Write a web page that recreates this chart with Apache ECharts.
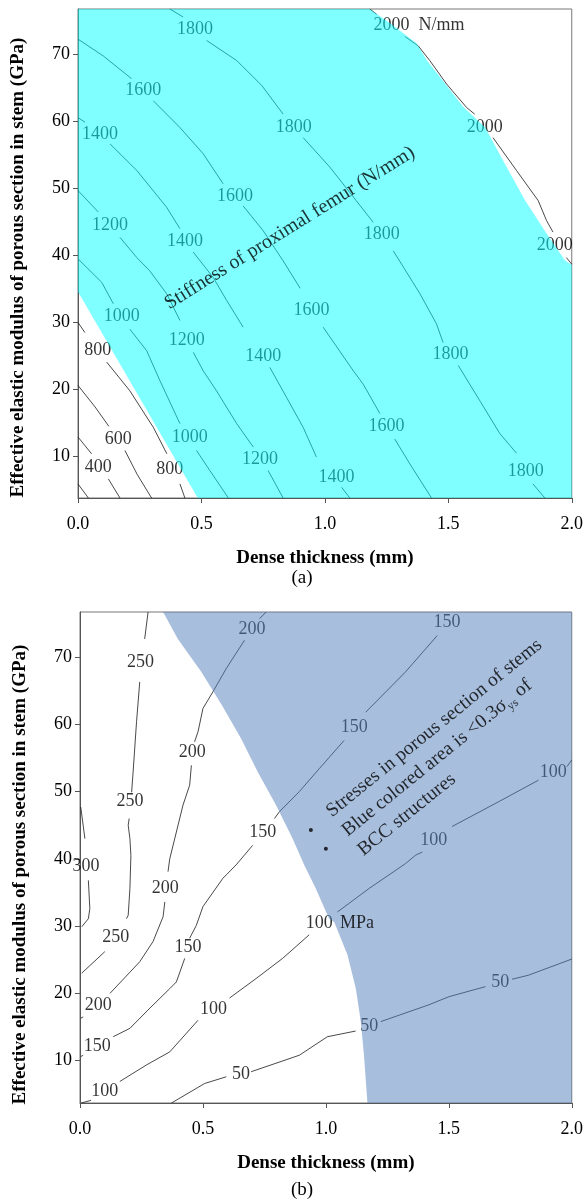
<!DOCTYPE html>
<html><head><meta charset="utf-8">
<script src="https://cdn.jsdelivr.net/npm/echarts@6/dist/echarts.min.js"></script>
<style>html,body{margin:0;padding:0;background:#fff}#c{width:586px;height:1200px}</style>
</head><body><div id="c"></div>
<script>
// ---------- shared axis values ----------
const yTicks = [10, 20, 30, 40, 50, 60, 70];
const xTitle = 'Dense thickness (mm)';
const yTitle = 'Effective elastic modulus of porous section in stem (GPa)';

// ---------- panel (a): stiffness contours (N/mm), null = gap for label ----------
const regionA = [[0,76.7],[1.182,76.7],[1.274,74.3],[1.371,71.6],[1.412,69.1],[1.486,65.6],[1.56,62.1],[1.648,59.1],[1.735,53.2],[1.81,48.2],[1.898,43.2],[1.972,39.2],[2.0,38.5],[2.0,3.7],[0.485,3.7],[0,34.5]];
const a200 = [[0,5.8],[0.042,3.7]];
const a400 = [[0,12.8],[0.055,10.3],null,[0.123,6.55],[0.17,3.7]];
const a600 = [[0,20.5],[0.069,17.3],[0.125,14.4],null,[0.19,10.8],[0.24,7.2],[0.298,3.7]];
const a800 = [[0,29.9],[0.028,28.4],null,[0.116,24.0],[0.21,19.7],[0.305,14.25],[0.36,10.3],null,[0.413,5.8],[0.433,3.7]];
const a1000 = [[0,39.4],[0.096,35.9],[0.143,32.7],null,[0.21,28.9],[0.278,25.7],[0.332,21.2],[0.413,14.8],null,[0.48,10.8],[0.534,7.8],[0.609,3.7]];
const a1200 = [[0,49.6],[0.082,46.4],null,[0.17,42.6],[0.238,39.6],[0.291,37.6],[0.359,34.2],[0.413,30.2],null,[0.467,25.45],[0.507,22.7],[0.561,19.7],[0.643,14.8],[0.71,11.3],null,[0.77,7.8],[0.831,3.7]];
const a1400 = [[0,60.5],[0.028,59.8],null,[0.13,56.55],[0.238,52.6],[0.359,47.1],[0.413,43.9],null,[0.467,40.4],[0.548,36.6],[0.602,33.2],[0.669,29.2],null,[0.777,23.2],[0.845,18.7],[0.912,14.25],[0.966,9.8],null,[1.068,5.3],[1.101,3.7]];
const a1600 = [[0,72.2],[0.102,69.7],[0.217,66.3],null,[0.305,63.0],[0.413,59.0],[0.507,55.1],[0.588,50.6],null,[0.669,47.3],[0.75,43.6],[0.831,39.1],[0.9,35.0],null,[0.993,29.2],[1.115,22.7],[1.155,20.7],[1.223,16.3],null,[1.283,12.5],[1.344,8.8],[1.432,3.7]];
const a1800 = [[0.372,76.7],[0.426,75.5],null,[0.521,72.0],[0.643,69.0],[0.744,65.3],[0.831,61.0],null,[0.912,57.5],[1.02,53.1],[1.196,44.85],null,[1.277,40.6],[1.385,34.2],[1.452,29.7],[1.479,26.9],null,[1.54,23.5],[1.628,18.2],[1.709,13.3],[1.776,10.4],null,[1.843,5.8],[1.891,3.7]];
const a2000 = [[1.182,76.7],[1.21,75.9],null,[1.324,72.6],[1.378,71.2],[1.425,69.0],[1.493,65.5],[1.574,62.0],[1.607,61.0],null,[1.681,57.5],[1.776,52.6],[1.864,48.1],[1.898,45.1],[1.924,43.4],null,[1.978,39.6],[2.0,38.6]];
const labelsA = [
  [0.082,8.3,'400'],[0.163,12.5,'600'],[0.08,25.7,'800'],[0.372,8.05,'800'],
  [0.177,30.8,'1000'],[0.453,12.8,'1000'],
  [0.13,44.4,'1200'],[0.44,27.2,'1200'],[0.737,9.55,'1200'],
  [0.089,58.05,'1400'],[0.433,42.1,'1400'],[0.75,24.8,'1400'],[1.047,6.8,'1400'],
  [0.264,64.6,'1600'],[0.636,48.8,'1600'],[0.946,31.8,'1600'],[1.25,14.4,'1600'],
  [0.474,73.7,'1800'],[0.874,59.1,'1800'],[1.23,43.1,'1800'],[1.509,25.1,'1800'],[1.814,7.7,'1800'],
  [1.27,74.2,'2000'],[1.648,59.0,'2000'],[1.931,41.4,'2000']
];
const unitA = [[1.472,74.2,'N/mm']];
const noteA = [[0.858,44.0,'Stiffness of proximal femur (N/mm)']];

// ---------- panel (b): stress contours (MPa) ----------
const regionB = [[0.338,76.7],[2.0,76.7],[2.0,3.7],[1.169,3.7],[1.155,10.8],[1.142,15.8],[1.122,20.7],[1.088,25.7],[1.034,30.6],[1.013,31.1],[0.959,35.6],[0.912,39.1],[0.865,43.0],[0.797,48.0],[0.723,52.9],[0.655,57.9],[0.578,62.8],[0.493,67.8],[0.398,72.7]];
const b300 = [[0.003,47.7],[0.02,43.0],null,[0.034,36.8],[0.04,32.6],[0.034,31.1],[0.007,29.9]];
const b250 = [[0.277,76.7],[0.263,72.7],null,[0.243,66.3],[0.23,60.4],[0.216,52.9],[0.21,49.9],null,[0.2,46.0],[0.196,45.0],[0.203,43.0],[0.207,40.5],[0.203,35.6],[0.196,31.6],[0.189,31.1],null,[0.101,26.2],[0.007,23.0]];
const b200 = [[0.757,76.7],[0.73,75.7],null,[0.669,72.5],[0.595,68.3],[0.54,64.8],[0.5,62.35],[0.48,58.9],[0.466,57.4],null,[0.453,53.9],[0.446,50.95],[0.419,48.0],[0.365,40.0],[0.358,38.1],null,[0.345,33.6],[0.338,31.4],[0.297,27.7],[0.243,24.7],[0.122,20.0],null,[0.013,16.5],[0.003,16.3]];
const b150 = [[1.453,73.2],[1.324,67.8],[1.162,61.8],null,[1.074,57.6],[0.973,53.4],[0.892,50.0],[0.811,47.0],[0.791,46.0],null,[0.702,42.0],[0.635,39.1],[0.581,37.1],[0.5,32.9],[0.473,30.1],[0.446,28.2],null,[0.426,25.2],[0.392,21.7],[0.365,20.7],[0.284,17.8],[0.203,14.8],[0.135,13.55],null,[0.013,10.8],[0.003,10.6]];
const b100 = [[2.0,54.7],[1.98,53.7],null,[1.865,51.7],[1.703,48.5],[1.513,44.8],null,[1.392,41.0],[1.365,40.55],[1.324,39.3],[1.176,35.6],[1.047,32.1],null,[0.932,28.7],[0.824,25.2],[0.716,22.2],[0.608,19.3],null,[0.48,16.0],[0.365,11.3],[0.27,9.35],[0.162,6.9],null,[0.045,4.1],[0.005,3.7]];
const b50 = [[0.372,3.7],[0.507,6.6],[0.595,7.6],null,[0.696,8.35],[0.892,10.8],[1.006,13.55],[1.121,14.4],null,[1.223,15.8],[1.419,18.3],[1.5,19.5],[1.649,21.0],null,[1.757,22.1],[1.824,22.7],[2.0,25.1]];
const labelsB = [
  [0.024,38.9,'300'],
  [0.246,69.2,'250'],[0.203,48.6,'250'],[0.145,28.4,'250'],
  [0.7,74.1,'200'],[0.457,55.9,'200'],[0.347,35.6,'200'],[0.074,18.3,'200'],
  [1.493,75.2,'150'],[1.115,59.6,'150'],[0.743,44.0,'150'],[0.439,26.8,'150'],[0.07,12.1,'150'],
  [1.925,52.9,'100'],[1.439,42.8,'100'],[0.973,30.4,'100'],[0.543,17.7,'100'],[0.101,5.4,'100'],
  [0.655,7.9,'50'],[1.176,15.05,'50'],[1.709,21.7,'50']
];
const unitB = [[1.127,30.4,'MPa']];
const bulletsB = [[0.939,44.3],[1.0,41.5]];
const noteBPos = [0.98,48.2];

// ---------- builders ----------
const FONT = '"Liberation Serif", "Times New Roman", serif';
function segs(pts){ const out=[]; let cur=[]; pts.forEach(p=>{ if(p===null){ if(cur.length) out.push(cur); cur=[]; } else cur.push(p); }); if(cur.length) out.push(cur); return out; }
function contourSeries(list, gi){
  const s=[];
  list.forEach(pts=>segs(pts).forEach(seg=>s.push({type:'line', xAxisIndex:gi, yAxisIndex:gi, data:seg, symbol:'none', lineStyle:{color:'#1a1a1a', width:0.8}, z:2, silent:true})));
  return s;
}
function labelSeries(list, gi, z, extraLabel){
  return {type:'scatter', xAxisIndex:gi, yAxisIndex:gi, z:z, silent:true, symbolSize:0,
    itemStyle:{color:'rgba(0,0,0,0)'},
    data:list.map(l=>({value:[l[0],l[1]], name:l[2]})),
    label:Object.assign({show:true, position:'inside', formatter:'{b}', fontFamily:FONT, fontSize:18, color:'#000'}, extraLabel||{})};
}
function regionSeries(poly, gi, fill){
  return {type:'custom', xAxisIndex:gi, yAxisIndex:gi, z:4, silent:true, data:poly,
    renderItem:(params, api)=> params.dataIndex===0 ? {type:'polygon', shape:{points:poly.map(p=>api.coord(p))}, style:{fill:fill}} : null};
}
function xAx(gi){
  return {type:'value', gridIndex:gi, min:0, max:2, interval:0.5,
    axisLine:{show:true, onZero:false, lineStyle:{color:'#555'}},
    axisTick:{show:true, length:5, lineStyle:{color:'#555'}},
    axisLabel:{formatter:v=>v.toFixed(1), fontFamily:FONT, fontSize:18, color:'#000', margin:17},
    splitLine:{show:false},
    name:xTitle, nameLocation:'middle', nameGap:51,
    nameTextStyle:{fontFamily:FONT, fontWeight:'bold', fontSize:19, color:'#000'}};
}
function yAx(gi, shiftPad){
  return {type:'value', gridIndex:gi, min:3.7, max:76.7,
    axisLine:{show:true, onZero:false, lineStyle:{color:'#555'}},
    axisTick:{show:true, length:5, customValues:yTicks, lineStyle:{color:'#555'}},
    axisLabel:{customValues:yTicks, fontFamily:FONT, fontSize:18, color:'#000', margin:8},
    splitLine:{show:false},
    name:yTitle, nameLocation:'middle', nameGap:50, nameRotate:90,
    nameTextStyle:{fontFamily:FONT, fontWeight:'bold', fontSize:19, color:'#000', padding:[0, shiftPad, 0, 0]}};
}

const series = [].concat(
  contourSeries([a200,a400,a600,a800,a1000,a1200,a1400,a1600,a1800,a2000], 0),
  [labelSeries(labelsA, 0, 3)],
  [regionSeries(regionA, 0, 'rgba(0,255,255,0.5)')],
  [labelSeries(unitA, 0, 6)],
  [labelSeries(noteA, 0, 6, {fontSize:20, rotate:32})],
  contourSeries([b300,b250,b200,b150,b100,b50], 1),
  [labelSeries(labelsB, 1, 3)],
  [regionSeries(regionB, 1, 'rgba(82,126,188,0.5)')],
  [labelSeries(unitB, 1, 6)],
  [{type:'scatter', xAxisIndex:1, yAxisIndex:1, z:6, silent:true, symbolSize:4, itemStyle:{color:'#000'}, data:bulletsB}],
  [{type:'scatter', xAxisIndex:1, yAxisIndex:1, z:6, silent:true, symbolSize:0, itemStyle:{color:'rgba(0,0,0,0)'},
    data:[{value:noteBPos, name:'note'}],
    label:{show:true, position:[0,0], align:'left', verticalAlign:'top', rotate:39,
      formatter:'{a|Stresses in porous section of stems}\n{a|Blue colored area is <0.3σ}{s|ys}{a| of}\n{a|BCC structures}',
      rich:{a:{fontFamily:FONT, fontSize:19.5, color:'#000', lineHeight:25},
            s:{fontFamily:FONT, fontSize:12, color:'#000', lineHeight:25, verticalAlign:'bottom'}}}}]
);

const chart = echarts.init(document.getElementById('c'), null, {renderer:'canvas'});
chart.setOption({
  animation:false,
  backgroundColor:'#fff',
  grid:[
    {left:78, right:14, top:9, height:489, show:true, borderColor:'#777', borderWidth:1, backgroundColor:'transparent'},
    {left:80, right:13, top:612, height:491, show:true, borderColor:'#777', borderWidth:1, backgroundColor:'transparent'}
  ],
  xAxis:[xAx(0), xAx(1)],
  yAxis:[yAx(0, 28), yAx(1, 34)],
  series:series,
  graphic:[
    {type:'text', x:302, y:578, style:{text:'(a)', fontFamily:FONT, fontSize:19, fill:'#000', align:'center', verticalAlign:'middle'}},
    {type:'text', x:302, y:1190, style:{text:'(b)', fontFamily:FONT, fontSize:19, fill:'#000', align:'center', verticalAlign:'middle'}}
  ]
});
</script></body></html>
